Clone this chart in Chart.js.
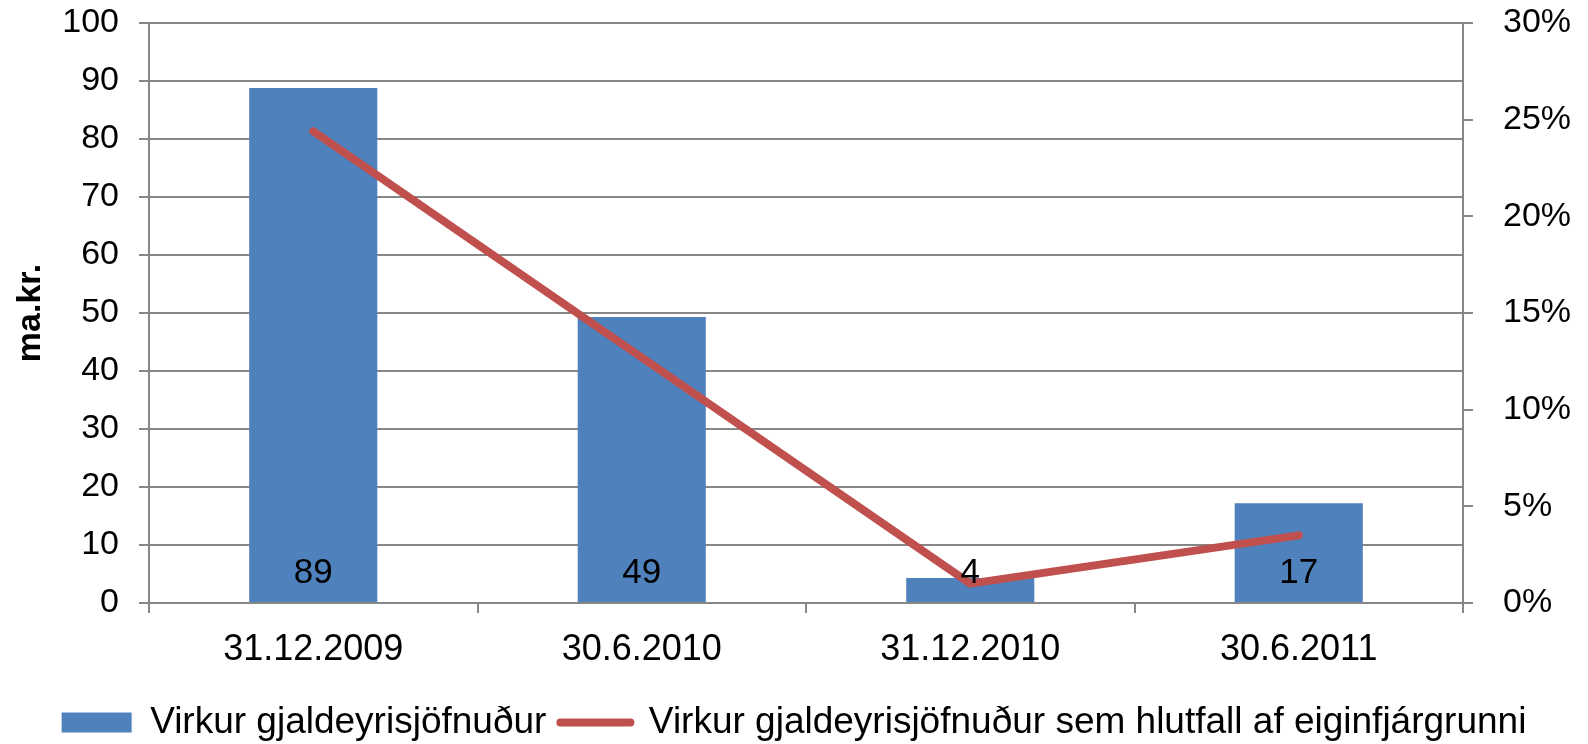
<!DOCTYPE html>
<html>
<head>
<meta charset="utf-8">
<script src="https://cdn.jsdelivr.net/npm/chart.js@4"></script>
<style>
  body { margin: 0; background: #fff; }
</style>
</head>
<body>
<canvas id="chart" width="1588" height="744"></canvas>
<script>
const labels = ["31.12.2009", "30.6.2010", "31.12.2010", "30.6.2011"];
const positionValues = [88.8, 49.3, 4.3, 17.2];     // ma.kr.
const shareOfCapital = [24.4, 12.7, 1.0, 3.5];      // %
const leftTicks = [0, 10, 20, 30, 40, 50, 60, 70, 80, 90, 100];
const rightTicks = [0, 5, 10, 15, 20, 25, 30];

const barName = "Virkur gjaldeyrisjöfnuður";
const lineName = "Virkur gjaldeyrisjöfnuður sem hlutfall af eiginfjárgrunni";

const FONT = "'Liberation Sans', Arial, sans-serif";
const GRID = "#878787";

// numbers inside the bars, near the base
const barLabels = {
  id: "barLabels",
  afterDatasetsDraw(chart) {
    const meta = chart.getDatasetMeta(0);
    const ctx = chart.ctx;
    ctx.save();
    ctx.font = "35px " + FONT;
    ctx.fillStyle = "#000";
    ctx.textAlign = "center";
    ctx.textBaseline = "middle";
    meta.data.forEach((bar, i) => {
      ctx.fillText(Math.round(positionValues[i]), bar.x, bar.base - 29);
    });
    ctx.restore();
  }
};

// keep the plot area where the reference has it
const noLabelPad = s => { s.paddingTop = 0; s.paddingBottom = 0; };

new Chart(document.getElementById("chart"), {
  type: "bar",
  data: {
    labels,
    datasets: [
      {
        label: barName,
        data: positionValues,
        backgroundColor: "#4F81BD",
        categoryPercentage: 1,
        barPercentage: 0.39,
        yAxisID: "y",
        order: 2
      },
      {
        type: "line",
        label: lineName,
        data: shareOfCapital,
        borderColor: "#C0504D",
        borderWidth: 8,
        borderCapStyle: "round",
        borderJoinStyle: "round",
        pointRadius: 0,
        tension: 0,
        yAxisID: "y1",
        order: 1
      }
    ]
  },
  options: {
    responsive: false,
    animation: false,
    layout: { padding: { top: 23, left: 0, right: 0, bottom: -7 } },
    plugins: {
      tooltip: { enabled: false },
      legend: {
        position: "bottom",
        labels: {
          usePointStyle: true,
          pointStyleWidth: 70,
          boxHeight: 20,
          padding: 14,
          color: "#000",
          font: { family: FONT, size: 37 },
          generateLabels: () => [
            { text: barName, fillStyle: "#4F81BD", strokeStyle: "#4F81BD", lineWidth: 0, pointStyle: "rect", datasetIndex: 0 },
            { text: lineName, fillStyle: "#C0504D", strokeStyle: "#C0504D", lineWidth: 8, lineCap: "round", pointStyle: "line", datasetIndex: 1 }
          ]
        }
      }
    },
    scales: {
      x: {
        offset: true,
        grid: { offset: true, drawOnChartArea: false, color: GRID, lineWidth: 2, tickLength: 10 },
        border: { color: GRID, width: 2 },
        ticks: { color: "#000", font: { family: FONT, size: 36 }, padding: 15, maxRotation: 0 },
        afterFit: s => { s.height = 87; }
      },
      y: {
        position: "left",
        min: 0,
        max: 100,
        afterBuildTicks: s => { s.ticks = leftTicks.map(v => ({ value: v })); },
        grid: { color: GRID, lineWidth: 2, tickLength: 10 },
        border: { color: GRID, width: 2 },
        ticks: { color: "#000", font: { family: FONT, size: 34 }, padding: 20 },
        title: {
          display: true,
          text: "ma.kr.",
          color: "#000",
          font: { family: FONT, size: 34, weight: "bold" },
          padding: { top: 10, bottom: 0 }
        },
        afterFit: s => { s.width = 149; noLabelPad(s); }
      },
      y1: {
        position: "right",
        min: 0,
        max: 30,
        afterBuildTicks: s => { s.ticks = rightTicks.map(v => ({ value: v })); },
        grid: { drawOnChartArea: false, color: GRID, lineWidth: 2, tickLength: 10 },
        border: { color: GRID, width: 2 },
        ticks: { color: "#000", font: { family: FONT, size: 34 }, padding: 30, callback: v => v + "%" },
        afterFit: s => { s.width = 125; noLabelPad(s); }
      }
    }
  },
  plugins: [barLabels]
});
</script>
</body>
</html>
